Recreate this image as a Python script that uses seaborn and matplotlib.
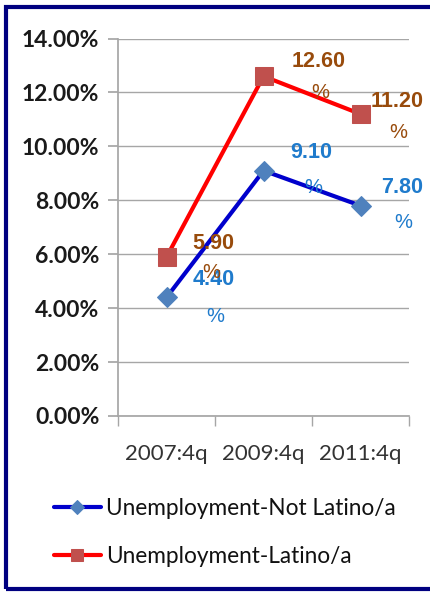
import matplotlib
matplotlib.use("Agg")
import matplotlib.pyplot as plt
from matplotlib.patches import Rectangle
from matplotlib.ticker import FuncFormatter
import pandas as pd
import seaborn as sns

# data
quarters = ["2007:4q", "2009:4q", "2011:4q"]
not_latino = [4.40, 9.10, 7.80]
latino = [5.90, 12.60, 11.20]
series_names = ["Unemployment-Not Latino/a", "Unemployment-Latino/a"]

sns.set_theme(style="white")
plt.rcParams["font.family"] = ["Lato", "DejaVu Sans"]

fig = plt.figure(figsize=(4.31, 5.93), dpi=100)
ax = fig.add_axes([0.274, 0.2985, 0.675, 0.6365])

df = pd.DataFrame({"quarter": quarters * 2,
                   "rate": not_latino + latino,
                   "series": [series_names[0]] * 3 + [series_names[1]] * 3})

styles = {
    series_names[0]: dict(color="#0000cc", marker="D", markersize=10,
                          markerfacecolor="#4f81bd", markeredgecolor="#4f81bd"),
    series_names[1]: dict(color="#ff0000", marker="s", markersize=13,
                          markerfacecolor="#c0504d", markeredgecolor="#c0504d"),
}
for name in series_names:
    sub = df[df["series"] == name]
    sns.lineplot(data=sub, x="quarter", y="rate", ax=ax, linewidth=3,
                 label=name, sort=False, **styles[name])

# value labels: number on top, % underneath
label_colors = {series_names[0]: "#1f7bcc", series_names[1]: "#984b0c"}
num_offsets = {series_names[0]: [(34, 13), (34, 13), (30, 13)],
               series_names[1]: [(34, 10), (40, 11), (26, 9)]}
pct_offsets = {series_names[0]: [(35, -14), (36, -12), (31, -12)],
               series_names[1]: [(32, -11), (41, -12), (27, -13)]}
for name in series_names:
    sub = df[df["series"] == name].reset_index(drop=True)
    for i, row in sub.iterrows():
        ax.annotate(f"{row['rate']:.2f}", (i, row["rate"]),
                    xytext=num_offsets[name][i], textcoords="offset points",
                    ha="center", va="center", fontsize=15.5, fontweight="bold",
                    color=label_colors[name], family=["Liberation Sans"])
        ax.annotate("%", (i, row["rate"]),
                    xytext=pct_offsets[name][i], textcoords="offset points",
                    ha="center", va="center", fontsize=14.5,
                    color=label_colors[name], family=["Liberation Sans"])

ax.set_xlim(-0.5, 2.5)
ax.set_ylim(0, 14)
ax.set_yticks(range(0, 15, 2))
ax.yaxis.set_major_formatter(FuncFormatter(lambda v, p: f"{v:.2f}%"))
ax.set_xticks([-0.5, 0.5, 1.5, 2.5], minor=True)
ax.grid(axis="y", color="#a6a6a6", linewidth=1)
ax.set_axisbelow(True)
for side in ["top", "right"]:
    ax.spines[side].set_visible(False)
for side in ["left", "bottom"]:
    ax.spines[side].set_color("#a6a6a6")
ax.tick_params(axis="y", left=True, length=7, color="#a6a6a6", pad=6.5,
               labelsize=16.5, labelcolor="#1a1a1a")
for t in ax.get_yticklabels():
    t.set_fontweight("bold")
ax.tick_params(axis="x", which="major", bottom=False, length=0, pad=20,
               labelsize=16, labelcolor="#333333")
ax.tick_params(axis="x", which="minor", bottom=True, length=7, color="#a6a6a6")
ax.set_xlabel("")
ax.set_ylabel("")

handles, labels = ax.get_legend_handles_labels()
ax.get_legend().remove()
fig.legend(handles, labels, loc="upper left", bbox_to_anchor=(0.098, 0.179),
           frameon=False, fontsize=16.3, handlelength=2.1, handletextpad=0.2,
           labelspacing=1.2, borderpad=0, markerscale=0.7,
           labelcolor="#111111")

fig.patches.append(Rectangle((0.014, 0.007), 1.2, 0.981, transform=fig.transFigure,
                             fill=False, edgecolor="#000080", linewidth=3))

fig.savefig("out.png", dpi=100)
